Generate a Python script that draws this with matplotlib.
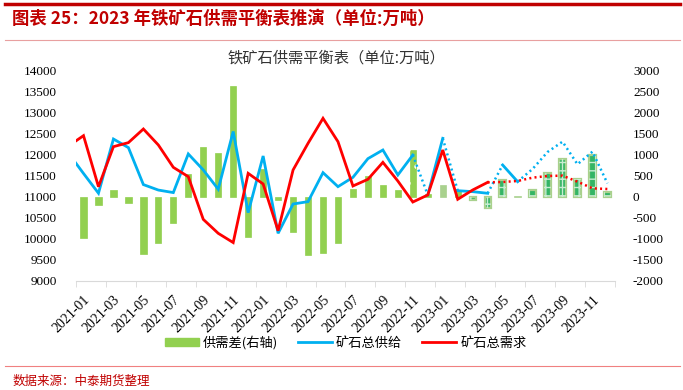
import matplotlib
matplotlib.use("Agg")
import matplotlib.pyplot as plt
import numpy as np
from matplotlib.lines import Line2D
from matplotlib.patches import Patch

plt.rcParams["font.family"] = ["Noto Sans CJK SC", "DejaVu Sans"]
plt.rcParams["axes.unicode_minus"] = False
plt.rcParams["hatch.linewidth"] = 1.0

# ---- data (万吨) ----
months = [f"{y}-{m:02d}" for y in (2021, 2022, 2023) for m in range(1, 13)]

# 供需差(右轴), 2021-01 .. 2023-12
gap = [-970, -180, 175, -135, -1350, -1095, -620, 555, 1190, 1050, 2650, -950,
       675, -80, -835, -1390, -1330, -1085, 200, 490, 295, 165, 1115, 70,
       285, 165, -70, -270, 405, 25, 165, 580, 895, 420, 1010, 125]

# 线条数据从 2020-12 开始（左边被坐标轴截掉一段）
line_months = ["2020-12"] + months
supply = [12040,
          11560, 11090, 12380, 12175, 11295, 11165, 11105, 12025, 11645, 11185, 12560, 10627,
          11976, 10135, 10833, 10889, 11579, 11246, 11468, 11913, 12119, 11524, 12000, 11048,
          12397, 11150, 11127, 11088, 11762, 11365, 11667, 12071, 12317, 11779, 12079, 11325]
demand = [12214,
          12460, 11245, 12198, 12294, 12619, 12238, 11706, 11484, 10468, 10135, 9915, 11563,
          11310, 10198, 11643, 12278, 12873, 12317, 11262, 11421, 11825, 11380, 10880, 11048,
          12119, 10945, 11167, 11349, 11357, 11381, 11460, 11500, 11508, 11365, 11206, 11190]

# ---- styles ----
GREEN = "#92d050"
LIGHT = "#a9d18e"
BLUE = "#00b0f0"
RED = "#ff0000"
DARK_RED = "#c00000"

# 每根柱子的样式：s=实心, d=白点, l=浅色, h=网格(预测)
bar_kind = ["s"] * 22 + ["d", "s", "l", "s", "h", "h", "h", "l"] + ["h"] * 6
# 每段折线是否实线（段 i 连接点 i 和 i+1）
n_seg = len(line_months) - 1
blue_solid = [True] * n_seg
for i in (23, 25, 28) + tuple(range(30, n_seg)):
    blue_solid[i] = False
red_solid = [i < 28 for i in range(n_seg)]


def draw_runs(ax, x, y, solid, color):
    start = 0
    for i in range(1, len(solid) + 1):
        if i == len(solid) or solid[i] != solid[start]:
            if solid[start]:
                ax.plot(x[start:i + 1], y[start:i + 1], color=color, lw=2.0,
                        solid_joinstyle="miter", zorder=3)
            else:
                ax.plot(x[start:i + 1], y[start:i + 1], color=color, lw=1.8,
                        ls=(0, (0.8, 1.3)), zorder=3)
            start = i


fig = plt.figure(figsize=(6.83, 3.9), dpi=100)
ax = fig.add_axes([0.1113, 0.2795, 0.789, 0.5385])
ax2 = ax.twinx()
ax.set_zorder(ax2.get_zorder() + 1)
ax.patch.set_visible(False)

# bars on right axis
xb = np.arange(len(months))
for xi, v, k in zip(xb, gap, bar_kind):
    if k == "s":
        ax2.bar(xi, v, width=0.42, color=GREEN, edgecolor=GREEN, lw=0.5)
    elif k == "l":
        ax2.bar(xi, v, width=0.42, color=LIGHT, edgecolor=LIGHT, lw=0.5)
    elif k == "d":
        ax2.bar(xi, v, width=0.42, color=GREEN, edgecolor=GREEN, lw=0.5)
        ax2.bar(xi, v, width=0.42, facecolor="none", edgecolor="white", lw=0, hatch=".")
    else:
        ax2.bar(xi, v, width=0.42, color="#33b565", edgecolor=LIGHT, lw=1.6)
        ax2.bar(xi, v, width=0.42, facecolor="none", edgecolor="#c8ecd2", lw=0, hatch="++")

# lines on left axis
xl = np.arange(-1, len(months))
draw_runs(ax, xl, supply, blue_solid, BLUE)
draw_runs(ax, xl, demand, red_solid, RED)

ax.set_xlim(-0.5, len(months) - 0.5)
ax.set_ylim(9000, 14000)
ax.set_yticks(range(9000, 14001, 500))
ax2.set_ylim(-2000, 3000)
ax2.set_yticks(range(-2000, 3001, 500))

ax.set_xticks(range(0, len(months), 2))
ax.set_xticklabels(months[::2], rotation=45, ha="right", va="top",
                   rotation_mode="anchor")
ax.set_xticks(np.arange(-0.5, len(months), 2), minor=True)
ax.tick_params(axis="x", which="major", length=0, pad=9)
ax.tick_params(axis="x", which="minor", length=4, color="#d9d9d9")
ax.tick_params(axis="y", length=0, pad=14)
ax2.tick_params(axis="y", length=0, pad=13)

for lab in ax.get_yticklabels() + ax2.get_yticklabels():
    lab.set_fontfamily("Liberation Serif")
    lab.set_fontsize(9.5)
for lab in ax.get_xticklabels():
    lab.set_fontfamily("Liberation Serif")
    lab.set_fontsize(10)

for a in (ax, ax2):
    for s in ("top", "left", "right"):
        a.spines[s].set_visible(False)
ax.spines["bottom"].set_color("#d9d9d9")
ax2.spines["bottom"].set_visible(False)

fig.text(0.493, 0.851, "铁矿石供需平衡表（单位:万吨）", ha="center", va="center",
         fontsize=11, color="#333333")

handles = [Patch(facecolor=GREEN, edgecolor=GREEN),
           Line2D([], [], color=BLUE, lw=2),
           Line2D([], [], color=RED, lw=2)]
fig.legend(handles, ["供需差(右轴)", "矿石总供给", "矿石总需求"], loc="center",
           bbox_to_anchor=(0.506, 0.121), ncol=3, frameon=False, fontsize=9.5,
           handlelength=2.6, handleheight=0.55, columnspacing=1.5, handletextpad=0.3)

# header / footer
fig.add_artist(Line2D([0.007, 0.995], [0.99, 0.99], color=DARK_RED, lw=2.5))
fig.text(0.018, 0.952, "图表 25：2023 年铁矿石供需平衡表推演（单位:万吨）",
         color=DARK_RED, fontsize=12.5, fontweight="bold", style="italic", va="center")
fig.add_artist(Line2D([0.007, 0.995], [0.897, 0.897], color="#e8a0a0", lw=0.8))
fig.add_artist(Line2D([0.007, 0.995], [0.0615, 0.0615], color="#f08080", lw=0.8))
fig.text(0.018, 0.023, "数据来源：中泰期货整理", color=DARK_RED, fontsize=9, va="center")

fig.savefig("out.png", dpi=100)
